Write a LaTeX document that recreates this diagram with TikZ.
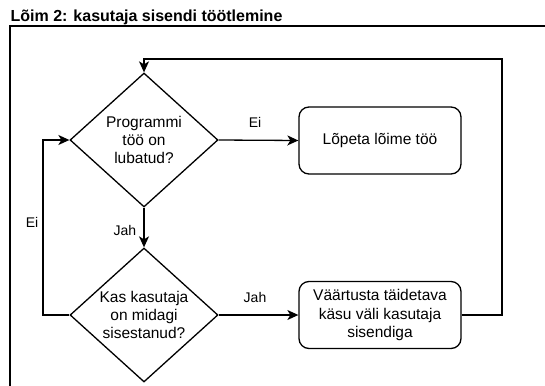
\documentclass[tikz,border=0pt]{standalone}
\usepackage{fontspec}
\setmainfont{Liberation Sans}
\usetikzlibrary{shapes.geometric,arrows.meta}
\begin{document}
\begin{tikzpicture}[x=1pt,y=-1pt,
  line width=1.3pt,
  every node/.style={text=black},
  flowarrow/.style={-{Stealth[length=11pt,width=10pt,inset=3pt]}},
  decision/.style={draw,diamond,aspect=1.1,inner sep=0pt,
    minimum width=148pt,minimum height=134pt,align=center,
    font=\fontsize{15.5}{18.3}\selectfont},
  action/.style={draw,rounded corners=10pt,minimum width=162pt,
    minimum height=67pt,align=center,inner sep=0pt,
    font=\fontsize{15.5}{18.3}\selectfont},
  edgelabel/.style={font=\fontsize{14}{16}\selectfont,inner sep=0pt}
  ]
\useasboundingbox (0,0) rectangle (545,385);

% heading and container frame
\node[anchor=base west,inner sep=0pt,font=\fontsize{16}{18}\selectfont\bfseries] (title) at (10,22) {Lõim 2: kasutaja sisendi töötlemine};
\draw (545,26) -- (10,26) -- (10,386);

% decisions and actions
\node[decision] (d1) at (144,140) {Programmi\\töö on\\lubatud?};
\node[decision] (d2) at (144,315) {Kas kasutaja\\on midagi\\sisestanud?};
\node[action] (b1) at (380,140.5) {Lõpeta lõime töö};
\node[action] (b2) at (380,315) {Väärtusta täidetava\\käsu väli kasutaja\\sisendiga};

% connectors
\coordinate (loopL) at (43,315);
\coordinate (loopR) at (502,315);
\coordinate (loopT) at (502,59);
\draw[flowarrow] (d1.east) -- (b1.west);
\draw[flowarrow] (d1.south) -- (d2.north);
\draw[flowarrow] (d2.east) -- (b2.west);
\draw[flowarrow] (d2.west) -- (loopL) |- (d1.west);
\draw[flowarrow] (b2.east) -- (loopR) -- (loopT) -| (d1.north);

% connector labels
\node[edgelabel] (lEi1) at (255,122) {Ei};
\node[edgelabel] (lJah1) at (125,230) {Jah};
\node[edgelabel] (lJah2) at (255,297) {Jah};
\node[edgelabel] (lEi2) at (32,222) {Ei};
\end{tikzpicture}
\end{document}
